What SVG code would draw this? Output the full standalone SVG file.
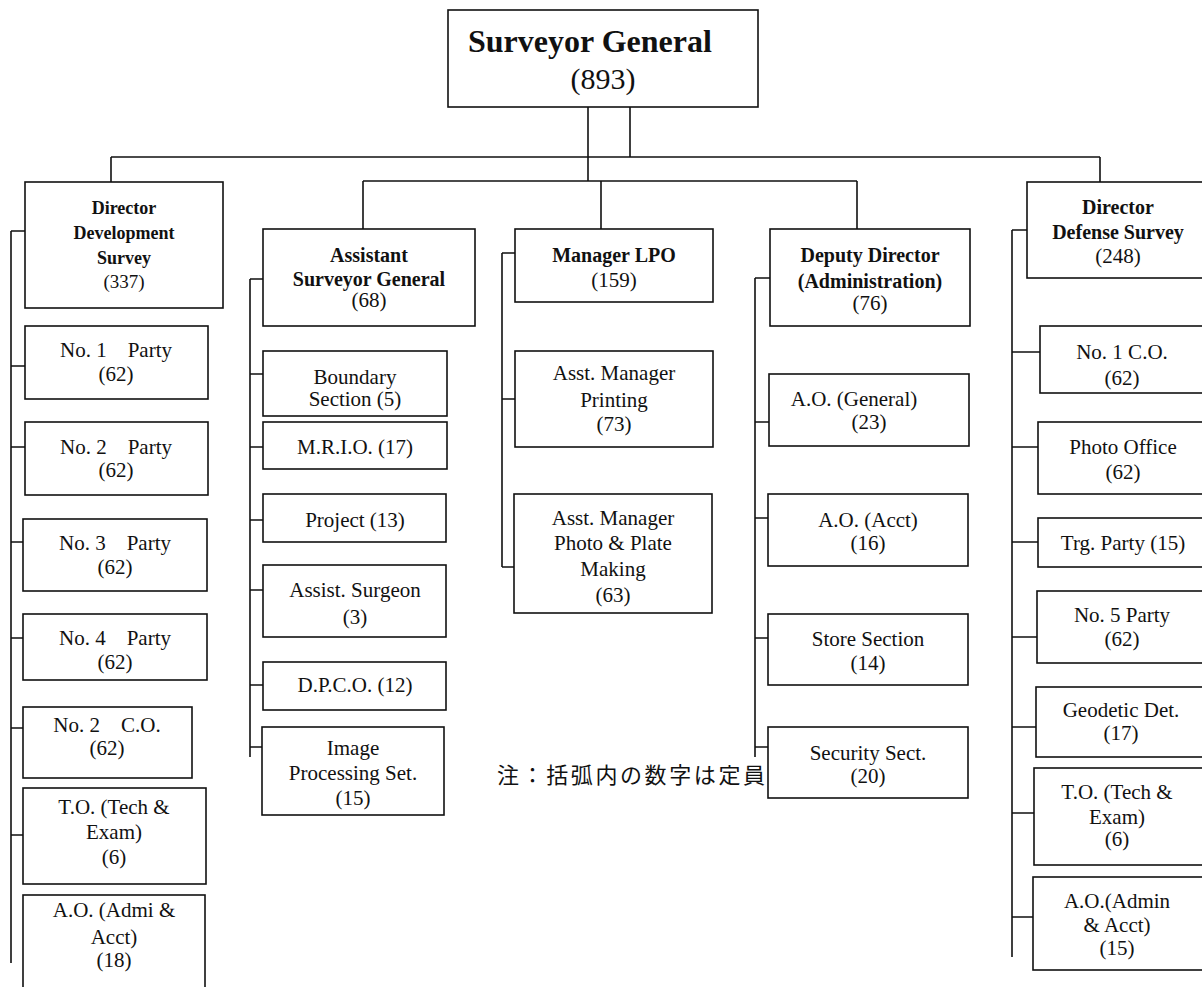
<svg xmlns="http://www.w3.org/2000/svg" width="1202" height="987" viewBox="0 0 1202 987">
<style>
rect{fill:#fff;stroke:#111;stroke-width:1.6}
text{font-family:"Liberation Serif","Times New Roman",serif;fill:#111;text-anchor:middle;font-size:21px}
.b{font-weight:bold;font-size:20px}
.ttl{font-size:32px;font-weight:bold;text-anchor:start}
.big{font-size:30px}
.sm{font-size:18px}
.md{font-size:19px}
.pre{white-space:pre}
.jp{font-family:"Noto Sans CJK JP","Noto Sans",sans-serif;font-size:22px;text-anchor:start}
#connectors path{fill:none;stroke:#111;stroke-width:1.6}
</style>
<rect x="0" y="0" width="1202" height="987" style="fill:#fff;stroke:none"/>
<g id="connectors">
<path d="M588,107V181M630,107V157M111,157H1100M111,157V182M1100,157V182M363,181H857M363,181V229M601,181V229M857,181V229"/>
<path d="M11,231V963M11,231H25M11,366H25M11,447H25M11,542H23M11,638H23M11,728H23M11,835H23"/>
<path d="M250,279V757M250,279H263M250,374H263M250,447H263M250,520H263M250,590H263M250,685H263M250,747H262"/>
<path d="M502,253V567M502,253H515M502,399H515M502,567H514"/>
<path d="M755,278V757M755,278H770M755,422H769M755,518H768M755,638H768M755,747H768"/>
<path d="M1012,230V957M1012,230H1027M1012,352H1040M1012,447H1038M1012,542H1038M1012,637H1037M1012,727H1036M1012,813H1034M1012,917H1033"/>
</g>
<g id="surveyor-general"><rect x="448" y="10" width="310" height="97"/><text class="ttl" x="468" y="52">Surveyor General</text><text class="big" x="603" y="89">(893)</text></g>
<g id="dds"><rect x="25" y="182" width="198" height="126"/><text class="b sm" x="124" y="214">Director</text><text class="b sm" x="124" y="239">Development</text><text class="b sm" x="124" y="264">Survey</text><text class="md" x="124" y="288">(337)</text></g>
<g id="dds-p1"><rect x="25" y="326" width="183" height="73"/><text class="pre" x="116" y="357">No. 1    Party</text><text x="116" y="381">(62)</text></g>
<g id="dds-p2"><rect x="25" y="422" width="183" height="73"/><text class="pre" x="116" y="454">No. 2    Party</text><text x="116" y="477">(62)</text></g>
<g id="dds-p3"><rect x="23" y="519" width="184" height="72"/><text class="pre" x="115" y="550">No. 3    Party</text><text x="115" y="574">(62)</text></g>
<g id="dds-p4"><rect x="23" y="614" width="184" height="66"/><text class="pre" x="115" y="645">No. 4    Party</text><text x="115" y="669">(62)</text></g>
<g id="dds-co2"><rect x="23" y="707" width="169" height="71"/><text class="pre" x="107" y="732">No. 2    C.O.</text><text x="107" y="755">(62)</text></g>
<g id="dds-to"><rect x="23" y="788" width="183" height="96"/><text x="114" y="814">T.O. (Tech &amp;</text><text x="114" y="839">Exam)</text><text x="114" y="864">(6)</text></g>
<g id="dds-ao"><rect x="23" y="895" width="182" height="100"/><text x="114" y="917">A.O. (Admi &amp;</text><text x="114" y="944">Acct)</text><text x="114" y="967">(18)</text></g>
<g id="asg"><rect x="263" y="229" width="212" height="97"/><text class="b" x="369" y="262">Assistant</text><text class="b" x="369" y="286">Surveyor General</text><text x="369" y="307">(68)</text></g>
<g id="asg-boundary"><rect x="263" y="351" width="184" height="65"/><text x="355" y="384">Boundary</text><text x="355" y="406">Section (5)</text></g>
<g id="asg-mrio"><rect x="263" y="422" width="184" height="47"/><text x="355" y="454">M.R.I.O. (17)</text></g>
<g id="asg-project"><rect x="263" y="494" width="183" height="48"/><text x="355" y="527">Project (13)</text></g>
<g id="asg-surgeon"><rect x="263" y="565" width="183" height="72"/><text x="355" y="597">Assist. Surgeon</text><text x="355" y="624">(3)</text></g>
<g id="asg-dpco"><rect x="263" y="662" width="183" height="48"/><text x="355" y="692">D.P.C.O. (12)</text></g>
<g id="asg-image"><rect x="262" y="727" width="182" height="88"/><text x="353" y="755">Image</text><text x="353" y="780">Processing Set.</text><text x="353" y="805">(15)</text></g>
<g id="lpo"><rect x="515" y="229" width="198" height="73"/><text class="b" x="614" y="262">Manager LPO</text><text x="614" y="287">(159)</text></g>
<g id="lpo-printing"><rect x="515" y="351" width="198" height="96"/><text x="614" y="380">Asst. Manager</text><text x="614" y="407">Printing</text><text x="614" y="431">(73)</text></g>
<g id="lpo-photo"><rect x="514" y="494" width="198" height="119"/><text x="613" y="525">Asst. Manager</text><text x="613" y="550">Photo &amp; Plate</text><text x="613" y="576">Making</text><text x="613" y="602">(63)</text></g>
<g id="dda"><rect x="770" y="229" width="200" height="97"/><text class="b" x="870" y="262">Deputy Director</text><text class="b" x="870" y="288">(Administration)</text><text x="870" y="310">(76)</text></g>
<g id="dda-general"><rect x="769" y="374" width="200" height="72"/><text x="854" y="406">A.O. (General)</text><text x="869" y="429">(23)</text></g>
<g id="dda-acct"><rect x="768" y="494" width="200" height="72"/><text x="868" y="527">A.O. (Acct)</text><text x="868" y="550">(16)</text></g>
<g id="dda-store"><rect x="768" y="614" width="200" height="71"/><text x="868" y="646">Store Section</text><text x="868" y="670">(14)</text></g>
<g id="dda-security"><rect x="768" y="727" width="200" height="71"/><text x="868" y="760">Security Sect.</text><text x="868" y="783">(20)</text></g>
<g id="dfs"><rect x="1027" y="182" width="180" height="96"/><text class="b" x="1118" y="214">Director</text><text class="b" x="1118" y="239">Defense Survey</text><text x="1118" y="263">(248)</text></g>
<g id="dfs-co1"><rect x="1040" y="326" width="167" height="67"/><text x="1122" y="359">No. 1 C.O.</text><text x="1122" y="385">(62)</text></g>
<g id="dfs-photo"><rect x="1038" y="422" width="169" height="72"/><text x="1123" y="454">Photo Office</text><text x="1123" y="479">(62)</text></g>
<g id="dfs-trg"><rect x="1038" y="518" width="169" height="49"/><text x="1123" y="550">Trg. Party (15)</text></g>
<g id="dfs-p5"><rect x="1037" y="591" width="170" height="72"/><text x="1122" y="622">No. 5 Party</text><text x="1122" y="646">(62)</text></g>
<g id="dfs-geodetic"><rect x="1036" y="687" width="171" height="70"/><text x="1121" y="717">Geodetic Det.</text><text x="1121" y="740">(17)</text></g>
<g id="dfs-to"><rect x="1034" y="768" width="173" height="97"/><text x="1117" y="799">T.O. (Tech &amp;</text><text x="1117" y="824">Exam)</text><text x="1117" y="846">(6)</text></g>
<g id="dfs-ao"><rect x="1033" y="877" width="174" height="93"/><text x="1117" y="908">A.O.(Admin</text><text x="1117" y="932">&amp; Acct)</text><text x="1117" y="955">(15)</text></g>
<text class="jp" x="497" y="783" textLength="268" lengthAdjust="spacing">注：括弧内の数字は定員</text>
</svg>
